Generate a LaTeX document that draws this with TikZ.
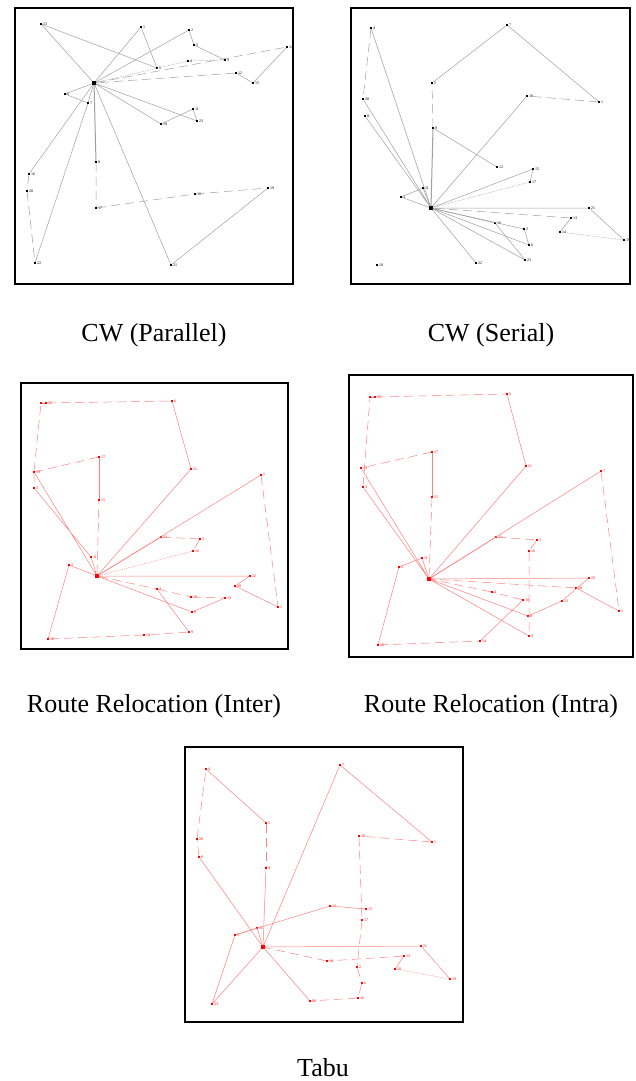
\documentclass[tikz,border=0pt]{standalone}
\usepackage{fontspec}
\setmainfont{Liberation Serif}
\usepackage{tikz}
\usetikzlibrary{positioning}
\tikzstyle{frame}=[draw,line width=1.6pt]
\tikzstyle{cust}=[fill=black,rectangle,inner sep=0pt,minimum size=2pt]
\tikzstyle{rcust}=[fill=red,rectangle,inner sep=0pt,minimum size=2pt]
\tikzstyle{depot}=[fill=black,rectangle,inner sep=0pt,minimum size=3.5pt]
\tikzstyle{rdepot}=[fill=red,rectangle,inner sep=0pt,minimum size=3.5pt]
\tikzstyle{lbl}=[font=\fontsize{4}{4}\selectfont,inner sep=0.6pt]
\tikzstyle{rlbl}=[lbl,text=red]
\tikzstyle{edge}=[draw=gray!75,line width=0.5pt]
\tikzstyle{redge}=[draw=red!50,line width=0.5pt]
\tikzstyle{dashlong}=[dash pattern=on 9pt off 5pt]
\tikzstyle{dotfine}=[dash pattern=on 1pt off 1.3pt]
\tikzstyle{caption}=[font=\fontsize{26}{30}\selectfont,inner sep=0pt,anchor=base]

\begin{document}
\begin{tikzpicture}[x=1pt,y=-1pt]
\useasboundingbox (0,0) rectangle (635,1081);

% CW (Parallel)
\draw[frame] (15,8) rectangle (293,284);
\node[depot] (a0) at (94,83) {};
\node[cust, label={[lbl]right:13}] (a13) at (41,24) {};
\node[cust, label={[lbl]right:1}] (a1) at (141,27) {};
\node[cust, label={[lbl]right:2}] (a2) at (189,30) {};
\node[cust, label={[lbl]right:3}] (a3) at (194,45) {};
\node[cust, label={[lbl]right:9}] (a9) at (225,60) {};
\node[cust, label={[lbl]right:4}] (a4) at (188,61) {};
\node[cust, label={[lbl]right:5}] (a5) at (157,68) {};
\node[cust, label={[lbl]right:12}] (a12) at (236,73) {};
\node[cust, label={[lbl]right:15}] (a15) at (253,83) {};
\node[cust, label={[lbl]right:14}] (a14) at (287,47) {};
\node[cust, label={[lbl]right:6}] (a6) at (65,94) {};
\node[cust, label={[lbl]right:7}] (a7) at (88,103) {};
\node[cust, label={[lbl]right:8}] (a8) at (96,162) {};
\node[cust, label={[lbl]right:17}] (a17) at (96,208) {};
\node[cust, label={[lbl]right:10}] (a10) at (195,194) {};
\node[cust, label={[lbl]right:19}] (a19) at (268,188) {};
\node[cust, label={[lbl]right:21}] (a21) at (171,265) {};
\node[cust, label={[lbl]right:16}] (a16) at (29,174) {};
\node[cust, label={[lbl]right:20}] (a20) at (27,191) {};
\node[cust, label={[lbl]right:22}] (a22) at (35,263) {};
\node[cust, label={[lbl]right:18}] (a18) at (161,124) {};
\node[cust, label={[lbl]right:11}] (a11) at (193,109) {};
\node[cust, label={[lbl]right:23}] (a23) at (197,121) {};
\draw[edge] (a0) -- (a13) -- (a5) -- (a1) -- (a0);
\draw[edge] (a0) -- (a2) -- (a3) -- (a9);
\draw[edge, dotfine] (a9) -- (a4) -- (a0);
\draw[edge, dashlong] (a0) -- (a14);
\draw[edge] (a14) -- (a15) -- (a12);
\draw[edge, dashlong] (a12) -- (a0);
\draw[edge] (a0) -- (a18) -- (a11) -- (a23) -- (a0);
\draw[edge] (a0) -- (a6) -- (a7);
\draw[edge, line width=1pt] (a0) -- (a8);
\draw[edge, dashlong] (a8) -- (a17) -- (a10) -- (a19);
\draw[edge] (a19) -- (a21) -- (a0);
\draw[edge] (a0) -- (a16);
\draw[edge, dashlong] (a16) -- (a20) -- (a22);
\draw[edge] (a22) -- (a7) -- (a0);

% CW (Serial)
\draw[frame] (351,8) rectangle (630,284);
\node[depot] (b0) at (431,208) {};
\node[cust, label={[lbl]right:4}] (b4) at (371,28) {};
\node[cust, label={[lbl]right:7}] (b7) at (507,25) {};
\node[cust, label={[lbl]right:1}] (b1) at (599,102) {};
\node[cust, label={[lbl]right:5}] (b5) at (432,83) {};
\node[cust, label={[lbl]right:20}] (b20) at (363,99) {};
\node[cust, label={[lbl]right:8}] (b8) at (365,116) {};
\node[cust, label={[lbl]right:18}] (b18) at (527,96) {};
\node[cust, label={[lbl]right:9}] (b9) at (433,128) {};
\node[cust, label={[lbl]right:12}] (b12) at (497,167) {};
\node[cust, label={[lbl]right:15}] (b15) at (533,169) {};
\node[cust, label={[lbl]right:17}] (b17) at (530,182) {};
\node[cust, label={[lbl]right:11}] (b11) at (423,188) {};
\node[cust, label={[lbl]right:3}] (b3) at (401,197) {};
\node[cust, label={[lbl]right:21}] (b21) at (589,208) {};
\node[cust, label={[lbl]right:13}] (b13) at (571,218) {};
\node[cust, label={[lbl]right:14}] (b14) at (560,232) {};
\node[cust, label={[lbl]right:19}] (b19) at (624,240) {};
\node[cust, label={[lbl]right:16}] (b16) at (495,223) {};
\node[cust, label={[lbl]right:2}] (b2) at (524,229) {};
\node[cust, label={[lbl]right:6}] (b6) at (529,245) {};
\node[cust, label={[lbl]right:22}] (b22) at (476,263) {};
\node[cust, label={[lbl]right:23}] (b23) at (525,260) {};
\node[cust, label={[lbl]right:10}] (b10) at (377,265) {};
\draw[edge] (b0) -- (b4);
\draw[edge, dashlong] (b4) -- (b20);
\draw[edge] (b20) -- (b0) -- (b8);
\draw[edge, line width=1pt] (b0) -- (b9);
\draw[edge, dashlong] (b9) -- (b5);
\draw[edge] (b5) -- (b7) -- (b1);
\draw[edge, dashlong] (b1) -- (b18);
\draw[edge] (b18) -- (b0);
\draw[edge] (b9) -- (b12);
\draw[edge] (b0) -- (b3) -- (b11) -- (b0);
\draw[edge] (b0) -- (b15) -- (b17);
\draw[edge, dotfine] (b17) -- (b0);
\draw[edge] (b0) -- (b21) -- (b19);
\draw[edge, dotfine] (b19) -- (b14);
\draw[edge] (b14) -- (b13);
\draw[edge, dashlong] (b13) -- (b0);
\draw[edge] (b0) -- (b2) -- (b6) -- (b0);
\draw[edge] (b0) -- (b16) -- (b23) -- (b0);
\draw[edge] (b0) -- (b22);

% Route Relocation (Inter)
\draw[frame] (21,383) rectangle (288,649);
\node[rdepot] (c0) at (97,576) {};
\node[rcust] (c33) at (41,403) {};
\node[rcust, label={[rlbl]right:33}] (c34) at (46,403) {};
\node[rcust, label={[rlbl]right:6}] (c6) at (172,401) {};
\node[rcust, label={[rlbl]right:21}] (c21) at (191,469) {};
\node[rcust, label={[rlbl]right:17}] (c17) at (99,457) {};
\node[rcust, label={[rlbl]right:15}] (c15) at (99,500) {};
\node[rcust, label={[rlbl]right:19}] (c19) at (34,472) {};
\node[rcust, label={[rlbl]right:3}] (c3) at (34,488) {};
\node[rcust, label={[rlbl]right:7}] (c7) at (261,475) {};
\node[rcust, label={[rlbl]right:11}] (c11) at (91,557) {};
\node[rcust, label={[rlbl]right:2}] (c2) at (69,565) {};
\node[rcust, label={[rlbl]right:12}] (c12) at (161,537) {};
\node[rcust, label={[rlbl]right:5}] (c5) at (200,539) {};
\node[rcust, label={[rlbl]right:16}] (c16) at (193,551) {};
\node[rcust, label={[rlbl]right:22}] (c22) at (250,576) {};
\node[rcust, label={[rlbl]right:20}] (c20) at (235,586) {};
\node[rcust, label={[rlbl]right:4}] (c4) at (157,589) {};
\node[rcust, label={[rlbl]right:18}] (c18) at (191,597) {};
\node[rcust, label={[rlbl]right:13}] (c13) at (225,598) {};
\node[rcust, label={[rlbl]right:1}] (c1) at (278,607) {};
\node[rcust, label={[rlbl]right:8}] (c8) at (192,612) {};
\node[rcust, label={[rlbl]right:9}] (c9) at (189,632) {};
\node[rcust, label={[rlbl]right:14}] (c14) at (144,635) {};
\node[rcust, label={[rlbl]right:10}] (c10) at (48,639) {};
\draw[redge, dashlong] (c0) -- (c15);
\draw[redge] (c15) -- (c17);
\draw[redge, dashlong] (c17) -- (c19) -- (c3);
\draw[redge] (c3) -- (c11) -- (c0) -- (c19);
\draw[redge, dashlong] (c19) -- (c33);
\draw[redge] (c33) -- (c34);
\draw[redge, dashlong] (c34) -- (c6);
\draw[redge] (c6) -- (c21) -- (c0) -- (c7);
\draw[redge, dashlong] (c7) -- (c1);
\draw[redge] (c1) -- (c20) -- (c22) -- (c0);
\draw[redge, dashlong] (c0) -- (c4) -- (c18) -- (c13);
\draw[redge] (c13) -- (c8) -- (c0) -- (c12);
\draw[redge, dashlong] (c12) -- (c5) -- (c16);
\draw[redge, dotfine] (c16) -- (c0);
\draw[redge] (c4) -- (c9);
\draw[redge, dashlong] (c9) -- (c14) -- (c10);
\draw[redge] (c10) -- (c2) -- (c0);

% Route Relocation (Intra)
\draw[frame] (349,375) rectangle (633,657);
\node[rdepot] (d0) at (429,579) {};
\node[rcust] (d33) at (370,397) {};
\node[rcust, label={[rlbl]right:33}] (d34) at (375,397) {};
\node[rcust, label={[rlbl]right:6}] (d6) at (507,394) {};
\node[rcust, label={[rlbl]right:21}] (d21) at (526,466) {};
\node[rcust, label={[rlbl]right:17}] (d17) at (432,452) {};
\node[rcust, label={[rlbl]right:19}] (d19) at (361,468) {};
\node[rcust, label={[rlbl]right:3}] (d3) at (363,487) {};
\node[rcust, label={[rlbl]right:15}] (d15) at (432,497) {};
\node[rcust, label={[rlbl]right:7}] (d7) at (601,471) {};
\node[rcust, label={[rlbl]right:12}] (d12) at (496,537) {};
\node[rcust, label={[rlbl]right:5}] (d5) at (537,540) {};
\node[rcust, label={[rlbl]right:16}] (d16) at (529,551) {};
\node[rcust, label={[rlbl]right:11}] (d11) at (422,558) {};
\node[rcust, label={[rlbl]right:2}] (d2) at (399,567) {};
\node[rcust, label={[rlbl]right:22}] (d22) at (589,578) {};
\node[rcust, label={[rlbl]right:4}] (d4) at (492,592) {};
\node[rcust, label={[rlbl]right:20}] (d20) at (576,588) {};
\node[rcust, label={[rlbl]right:13}] (d13) at (562,601) {};
\node[rcust, label={[rlbl]right:18}] (d18) at (523,600) {};
\node[rcust, label={[rlbl]right:8}] (d8) at (528,616) {};
\node[rcust, label={[rlbl]right:1}] (d1) at (619,611) {};
\node[rcust, label={[rlbl]right:9}] (d9) at (529,636) {};
\node[rcust, label={[rlbl]right:10}] (d10) at (378,645) {};
\node[rcust, label={[rlbl]right:14}] (d14) at (480,641) {};
\draw[redge, dashlong] (d0) -- (d15);
\draw[redge] (d15) -- (d17);
\draw[redge, dashlong] (d17) -- (d19);
\draw[redge] (d19) -- (d0) -- (d3);
\draw[redge, dashlong] (d3) -- (d33);
\draw[redge] (d33) -- (d34);
\draw[redge, dashlong] (d34) -- (d6);
\draw[redge] (d6) -- (d21) -- (d0) -- (d7);
\draw[redge, dashlong] (d7) -- (d1);
\draw[redge] (d1) -- (d20);
\draw[redge, dashlong] (d20) -- (d0);
\draw[redge] (d0) -- (d11) -- (d2) -- (d10);
\draw[redge, dashlong] (d10) -- (d14);
\draw[redge] (d14) -- (d18);
\draw[redge, dashlong] (d18) -- (d4) -- (d0);
\draw[redge] (d0) -- (d12);
\draw[redge, dashlong] (d12) -- (d5) -- (d16) -- (d9);
\draw[redge] (d9) -- (d0) -- (d22) -- (d13) -- (d8) -- (d0);

% Tabu
\draw[frame] (185,747) rectangle (463,1022);
\node[rdepot] (e0) at (263,947) {};
\node[rcust, label={[rlbl]right:4}] (e4) at (206,769) {};
\node[rcust, label={[rlbl]right:7}] (e7) at (340,765) {};
\node[rcust, label={[rlbl]right:5}] (e5) at (266,823) {};
\node[rcust, label={[rlbl]right:18}] (e18) at (359,836) {};
\node[rcust, label={[rlbl]right:1}] (e1) at (432,842) {};
\node[rcust, label={[rlbl]right:20}] (e20) at (197,839) {};
\node[rcust, label={[rlbl]right:8}] (e8) at (199,857) {};
\node[rcust, label={[rlbl]right:9}] (e9) at (266,868) {};
\node[rcust, label={[rlbl]right:12}] (e12) at (330,906) {};
\node[rcust, label={[rlbl]right:15}] (e15) at (366,909) {};
\node[rcust, label={[rlbl]right:17}] (e17) at (362,920) {};
\node[rcust, label={[rlbl]right:11}] (e11) at (257,928) {};
\node[rcust, label={[rlbl]right:3}] (e3) at (235,935) {};
\node[rcust, label={[rlbl]right:21}] (e21) at (421,946) {};
\node[rcust, label={[rlbl]right:13}] (e13) at (404,956) {};
\node[rcust, label={[rlbl]right:14}] (e14) at (327,961) {};
\node[rcust, label={[rlbl]right:2}] (e2) at (357,967) {};
\node[rcust, label={[rlbl]right:10}] (e10) at (395,969) {};
\node[rcust, label={[rlbl]right:19}] (e19) at (450,979) {};
\node[rcust, label={[rlbl]right:6}] (e6) at (362,983) {};
\node[rcust, label={[rlbl]right:16}] (e16) at (358,998) {};
\node[rcust, label={[rlbl]right:22}] (e22) at (310,1001) {};
\node[rcust, label={[rlbl]right:23}] (e23) at (212,1004) {};
\draw[redge] (e0) -- (e8);
\draw[redge, dashlong] (e8) -- (e20) -- (e4);
\draw[redge] (e4) -- (e5);
\draw[redge, dashlong] (e5) -- (e9);
\draw[redge] (e9) -- (e0) -- (e7) -- (e1);
\draw[redge, dashlong] (e1) -- (e18) -- (e17) -- (e2) -- (e6) -- (e16) -- (e22);
\draw[redge] (e22) -- (e0) -- (e21) -- (e19);
\draw[redge, dotfine] (e19) -- (e10);
\draw[redge] (e10) -- (e13);
\draw[redge, dashlong] (e13) -- (e14) -- (e0);
\draw[redge] (e0) -- (e23) -- (e3) -- (e12) -- (e15);
\draw[redge] (e0) -- (e11) -- (e3);

% captions
\node[caption] (capa) at (154,341) {CW (Parallel)};
\node[caption] (capb) at (491,341) {CW (Serial)};
\node[caption] (capc) at (154,712) {Route Relocation (Inter)};
\node[caption] (capd) at (491,712) {Route Relocation (Intra)};
\node[caption] (cape) at (323,1076) {Tabu};
\end{tikzpicture}
\end{document}
